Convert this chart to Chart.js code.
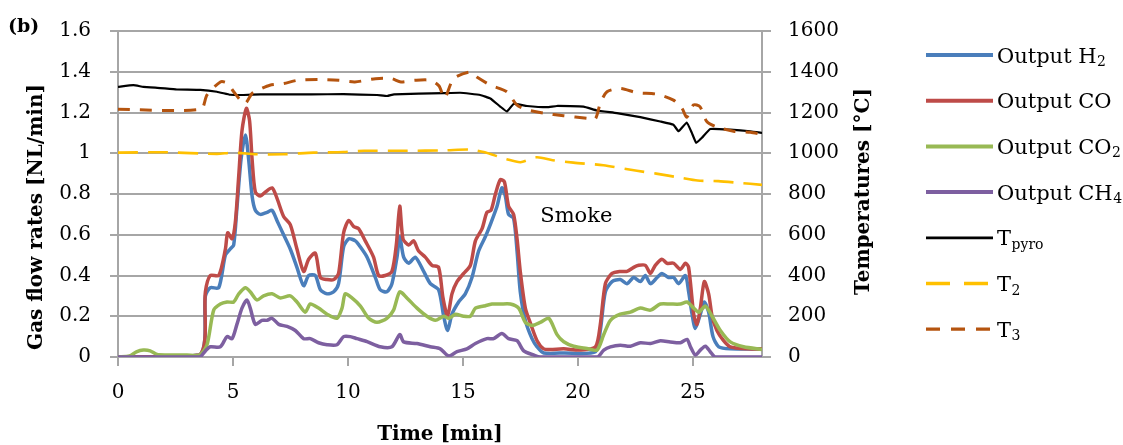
<!DOCTYPE html>
<html><head><meta charset="utf-8">
<script src="https://cdn.jsdelivr.net/npm/chart.js@4.4.1/dist/chart.umd.min.js"></script>
<style>html,body{margin:0;padding:0;background:#fff;overflow:hidden}canvas{display:block}</style>
</head><body>
<canvas id="c" width="1123" height="445" style="width:1123px;height:445px"></canvas>
<script>
const FONT = "'DejaVu Serif', serif";

// ---- data (time in min, flows in NL/min, temperatures in °C) ----
const timeH2 = [0,3.55,3.8,4.01,4.38,4.67,4.88,5.03,5.17,5.35,5.54,5.68,5.83,5.97,6.19,6.48,6.70,6.91,7.2,7.49,7.78,8.07,8.29,8.58,8.80,9.09,9.38,9.59,9.81,10.03,10.32,10.54,10.83,11.19,11.40,11.69,11.91,12.13,12.25,12.42,12.64,12.93,13.29,13.58,13.94,14.16,14.33,14.52,14.81,15.1,15.39,15.68,15.97,16.22,16.48,16.69,16.84,16.98,17.2,17.35,17.49,17.71,18.0,18.22,18.51,19.38,20.76,20.97,21.19,21.48,21.84,22.13,22.42,22.71,22.93,23.15,23.44,23.65,23.94,24.16,24.38,24.67,24.81,24.96,25.1,25.32,25.49,25.68,25.87,26.12,26.62,28];
const flowH2 = [0,0.01,0.30,0.34,0.34,0.50,0.53,0.55,0.73,0.97,1.09,0.97,0.79,0.72,0.70,0.71,0.72,0.67,0.60,0.53,0.44,0.35,0.40,0.40,0.33,0.31,0.32,0.36,0.54,0.58,0.57,0.54,0.49,0.39,0.33,0.32,0.36,0.49,0.59,0.49,0.46,0.49,0.42,0.36,0.33,0.20,0.13,0.21,0.27,0.31,0.39,0.52,0.59,0.66,0.74,0.83,0.79,0.70,0.68,0.52,0.32,0.18,0.09,0.05,0.02,0.02,0.026,0.13,0.32,0.37,0.38,0.36,0.39,0.37,0.40,0.36,0.39,0.41,0.39,0.39,0.36,0.40,0.32,0.21,0.14,0.21,0.27,0.22,0.10,0.05,0.04,0.04];

const timeCO = [0,3.55,3.8,4.01,4.38,4.67,4.77,4.96,5.1,5.25,5.39,5.58,5.72,5.83,5.97,6.19,6.41,6.70,6.91,7.2,7.49,7.78,8.07,8.29,8.58,8.80,9.09,9.38,9.59,9.81,10.03,10.25,10.46,10.75,11.11,11.33,11.62,11.91,12.1,12.25,12.39,12.64,12.85,13.07,13.36,13.65,13.94,14.13,14.33,14.52,14.74,15.03,15.32,15.54,15.83,16.04,16.22,16.41,16.62,16.8,16.98,17.2,17.35,17.49,17.71,17.95,18.22,18.51,18.8,19.38,20.1,20.76,20.97,21.19,21.48,21.84,22.13,22.42,22.64,22.93,23.15,23.36,23.65,23.87,24.16,24.45,24.67,24.81,25.03,25.17,25.32,25.49,25.68,25.83,26.04,26.33,26.62,27.35,28];
const flowCO = [0,0.01,0.32,0.40,0.40,0.53,0.61,0.58,0.66,0.89,1.11,1.22,1.16,0.97,0.81,0.79,0.81,0.83,0.78,0.69,0.65,0.53,0.42,0.48,0.51,0.39,0.38,0.38,0.41,0.61,0.67,0.64,0.63,0.57,0.49,0.40,0.40,0.42,0.55,0.74,0.58,0.55,0.57,0.52,0.49,0.45,0.44,0.29,0.20,0.31,0.37,0.41,0.45,0.57,0.63,0.71,0.72,0.80,0.87,0.86,0.74,0.70,0.58,0.42,0.24,0.16,0.08,0.04,0.037,0.04,0.034,0.05,0.16,0.36,0.41,0.42,0.42,0.44,0.45,0.45,0.41,0.45,0.48,0.46,0.46,0.43,0.46,0.44,0.21,0.16,0.24,0.37,0.31,0.20,0.13,0.08,0.05,0.04,0.04];

const timeCO2 = [0,0.5,0.8,1.1,1.4,1.7,2.2,3.0,3.55,3.87,4.16,4.45,4.74,5.03,5.25,5.54,5.75,6.04,6.33,6.70,7.06,7.49,7.78,8.14,8.36,8.72,9.09,9.52,9.74,9.88,10.17,10.54,10.9,11.26,11.69,11.98,12.25,12.56,13.0,13.43,13.8,14.16,14.38,14.67,15.03,15.32,15.54,15.9,16.26,16.62,17.06,17.42,17.71,18.0,18.36,18.73,19.09,19.38,19.81,20.39,20.83,21.12,21.41,21.84,22.28,22.71,23.15,23.58,24.01,24.45,24.74,25.03,25.25,25.54,25.83,26.19,26.62,27.2,28];
const flowCO2 = [0,0.005,0.025,0.034,0.03,0.012,0.01,0.01,0.01,0.06,0.23,0.26,0.27,0.27,0.31,0.34,0.32,0.28,0.30,0.31,0.29,0.30,0.27,0.22,0.26,0.24,0.21,0.19,0.24,0.31,0.29,0.25,0.19,0.17,0.19,0.23,0.32,0.29,0.24,0.20,0.18,0.20,0.19,0.21,0.20,0.20,0.24,0.25,0.26,0.26,0.26,0.24,0.17,0.155,0.17,0.19,0.11,0.075,0.053,0.042,0.034,0.11,0.18,0.21,0.22,0.24,0.23,0.26,0.26,0.26,0.27,0.24,0.22,0.25,0.20,0.13,0.074,0.05,0.037];

const timeCH4 = [0,3.55,3.8,4.01,4.45,4.74,4.96,5.17,5.39,5.61,5.75,5.97,6.26,6.48,6.70,6.99,7.35,7.71,8.07,8.36,8.72,9.09,9.52,9.81,10.1,10.39,10.83,11.4,11.91,12.25,12.42,13.0,13.58,14.01,14.38,14.74,15.17,15.54,16.04,16.33,16.69,16.98,17.35,17.64,18.07,18.36,20.83,21.12,21.41,21.84,22.28,22.71,23.15,23.58,24.01,24.45,24.74,24.89,25.1,25.32,25.54,25.75,25.97,28];
const flowCH4 = [0,0,0.03,0.05,0.05,0.10,0.09,0.16,0.24,0.28,0.24,0.16,0.18,0.18,0.19,0.16,0.15,0.13,0.09,0.09,0.07,0.06,0.06,0.10,0.10,0.09,0.075,0.05,0.05,0.11,0.074,0.066,0.05,0.04,0.005,0.026,0.04,0.066,0.09,0.09,0.115,0.09,0.08,0.03,0.01,0,0,0.034,0.05,0.058,0.053,0.07,0.066,0.08,0.074,0.07,0.086,0.05,0.01,0.034,0.053,0.026,0,0];

const timeTpyro = [0,0.67,1.1,1.84,2.56,3.58,4.3,4.88,5.17,5.46,6.2,8.4,9.8,11.26,11.7,12.0,14.15,14.88,15.75,16.19,16.62,16.91,17.2,17.78,18.65,19.08,20.24,20.82,21.69,22.71,23.58,24.15,24.37,24.73,24.95,25.14,25.39,25.75,26.62,27.49,28];
const tempTpyro = [1326,1334,1326,1320,1313,1311,1302,1287,1286,1286,1289,1289,1290,1286,1281,1289,1295,1297,1286,1269,1229,1205,1242,1232,1226,1232,1229,1210,1197,1177,1156,1140,1108,1151,1100,1051,1076,1119,1116,1108,1100];

const timeT2 = [0,2,4.3,5.0,6.0,7.2,8.5,9.8,10.7,12.5,14.2,15.3,15.9,16.9,17.5,18.2,18.9,19.8,21.1,22.56,23.4,24.45,25.2,26.1,26.97,28];
const tempT2 = [1003,1005,997,1003,995,995,1003,1006,1012,1012,1014,1018,1006,971,956,980,966,954,941,914,900,880,866,863,855,845];

const timeT3 = [0,3.6,3.87,4.45,4.74,5.03,5.32,5.54,5.83,6.1,6.6,7.2,7.8,8.7,9.6,10.3,11.2,11.9,12.3,12.9,13.6,13.96,14.2,14.59,15.3,15.6,16.2,16.91,17.34,17.78,18.5,19.37,20.39,20.75,20.97,21.26,21.84,22.56,23.43,24.15,24.52,24.73,25.02,25.3,25.6,26.04,26.76,27.49,28];
const tempT3 = [1216,1216,1286,1350,1345,1302,1261,1245,1294,1310,1334,1342,1358,1362,1358,1350,1366,1366,1350,1358,1358,1330,1270,1366,1399,1374,1334,1302,1237,1213,1197,1184,1172,1168,1245,1302,1318,1297,1290,1261,1221,1177,1237,1229,1156,1129,1108,1103,1092];

// ---- tick labels / texts ----
const xTickLabels = ['0','5','10','15','20','25'];
const yTickLabels = ['0','0.2','0.4','0.6','0.8','1','1.2','1.4','1.6'];
const y2TickLabels = ['0','200','400','600','800','1000','1200','1400','1600'];
const xTitle = 'Time [min]';
const yTitle = 'Gas flow rates [NL/min]';
const y2Title = 'Temperatures [°C]';
const panelLabel = '(b)';
const annotationText = 'Smoke';
const annotationAt = {x: 18.36, y: 0.664};

const legendItems = [
  {main:'Output H', sub:'2', color:'#4A7EBB', width:4, dash:[]},
  {main:'Output CO', sub:'', color:'#BE4B48', width:4, dash:[]},
  {main:'Output CO', sub:'2', color:'#98B954', width:4, dash:[]},
  {main:'Output CH', sub:'4', color:'#7D5FA0', width:4, dash:[]},
  {main:'T', sub:'pyro', color:'#000000', width:2.8, dash:[]},
  {main:'T', sub:'2', color:'#FFC000', width:3.3, dash:[24,14]},
  {main:'T', sub:'3', color:'#B5540F', width:3.3, dash:[14,11]}
];

function pts(t, v) { return t.map((x, i) => ({x: x, y: v[i]})); }

const GRID = '#a6a6a6';
const common = {pointRadius:0, pointHoverRadius:0, fill:false, tension:0.25, borderCapStyle:'butt', borderJoinStyle:'round'};

const datasets = [
  Object.assign({label:'Output H2', data:pts(timeH2, flowH2), borderColor:'#4A7EBB', borderWidth:3.5, yAxisID:'y', order:7}, common),
  Object.assign({label:'Output CO', data:pts(timeCO, flowCO), borderColor:'#BE4B48', borderWidth:3.5, yAxisID:'y', order:6}, common),
  Object.assign({label:'Output CO2', data:pts(timeCO2, flowCO2), borderColor:'#98B954', borderWidth:3.5, yAxisID:'y', order:5}, common),
  Object.assign({label:'Output CH4', data:pts(timeCH4, flowCH4), borderColor:'#7D5FA0', borderWidth:3.5, yAxisID:'y', order:4}, common),
  Object.assign({label:'Tpyro', data:pts(timeTpyro, tempTpyro), borderColor:'#000000', borderWidth:2.2, yAxisID:'y2', order:3}, common, {tension:0.1}),
  Object.assign({label:'T2', data:pts(timeT2, tempT2), borderColor:'#FFC000', borderWidth:2.6, borderDash:[20,10], yAxisID:'y2', order:2}, common),
  Object.assign({label:'T3', data:pts(timeT3, tempT3), borderColor:'#B5540F', borderWidth:3, borderDash:[12,10], yAxisID:'y2', order:1}, common)
];

const decor = {
  id:'decor',
  afterDraw(chart) {
    const ctx = chart.ctx;
    ctx.save();
    ctx.fillStyle = '#000';
    ctx.textAlign = 'left';
    ctx.textBaseline = 'alphabetic';
    // panel label
    ctx.font = `bold 19px ${FONT}`;
    ctx.fillText(panelLabel, 8, 32);
    // annotation
    ctx.font = `21px ${FONT}`;
    ctx.fillText(annotationText, chart.scales.x.getPixelForValue(annotationAt.x), chart.scales.y.getPixelForValue(annotationAt.y));
    // vertical axis titles
    ctx.font = `bold 20px ${FONT}`;
    ctx.textAlign = 'center';
    ctx.textBaseline = 'middle';
    ctx.save();
    ctx.translate(37, 217);
    ctx.rotate(-Math.PI/2);
    ctx.fillText(yTitle, 0, 0);
    ctx.restore();
    ctx.save();
    ctx.translate(864, 191.5);
    ctx.rotate(-Math.PI/2);
    ctx.fillText(y2Title, 0, 0);
    ctx.restore();
    // legend
    const x0 = 926, x1 = 993, tx = 997, yStart = 55, step = 45.7;
    legendItems.forEach((it, i) => {
      const y = yStart + i * step;
      ctx.save();
      ctx.strokeStyle = it.color;
      ctx.lineWidth = it.width;
      ctx.setLineDash(it.dash);
      ctx.beginPath(); ctx.moveTo(x0, y); ctx.lineTo(x1, y); ctx.stroke();
      ctx.restore();
      ctx.font = `21px ${FONT}`;
      ctx.fillStyle = '#000';
      ctx.textAlign = 'left';
      ctx.textBaseline = 'alphabetic';
      ctx.fillText(it.main, tx, y + 7.5);
      const w = ctx.measureText(it.main).width;
      if (it.sub) {
        ctx.font = `14px ${FONT}`;
        ctx.fillText(it.sub, tx + w + 0.5, y + 11);
      }
    });
    ctx.restore();
  }
};

new Chart(document.getElementById('c'), {
  type:'line',
  data:{datasets},
  options:{
    responsive:false, animation:false, events:[],
    layout:{padding:{top:27, left:0, right:0, bottom:0}},
    plugins:{legend:{display:false}, tooltip:{enabled:false}},
    scales:{
      x:{type:'linear', position:'bottom', min:0, max:28,
        afterBuildTicks: s => { s.ticks = s.ticks.filter(t => Math.abs(t.value % 5) < 1e-9); },
        ticks:{stepSize:5, color:'#000', font:{family:FONT, size:20}, padding:15, maxRotation:0,
          callback: v => xTickLabels[Math.round(v/5)]},
        grid:{drawOnChartArea:false, drawTicks:true, tickLength:9, color:GRID, lineWidth:2},
        border:{display:true, color:GRID, width:2},
        title:{display:true, text:xTitle, color:'#000', font:{family:FONT, size:20, weight:'bold', lineHeight:1.0}, padding:{top:0, bottom:0}},
        afterFit: s => { s.height = 88; }
      },
      y:{position:'left', min:0, max:1.6,
        ticks:{stepSize:0.2, color:'#000', font:{family:FONT, size:20}, padding:19,
          callback: v => yTickLabels[Math.round(v/0.2)]},
        grid:{color:GRID, lineWidth:2, tickLength:8},
        border:{display:true, color:GRID, width:2},
        title:{display:false},
        afterFit: s => { s.width = 118; }
      },
      y2:{position:'right', min:0, max:1600,
        ticks:{stepSize:200, color:'#000', font:{family:FONT, size:20}, padding:17,
          callback: v => y2TickLabels[Math.round(v/200)]},
        grid:{drawOnChartArea:false, drawTicks:true, tickLength:9, color:GRID, lineWidth:2},
        border:{display:true, color:GRID, width:2},
        afterFit: s => { s.width = 361; }
      }
    }
  },
  plugins:[decor]
});
</script>
</body></html>
